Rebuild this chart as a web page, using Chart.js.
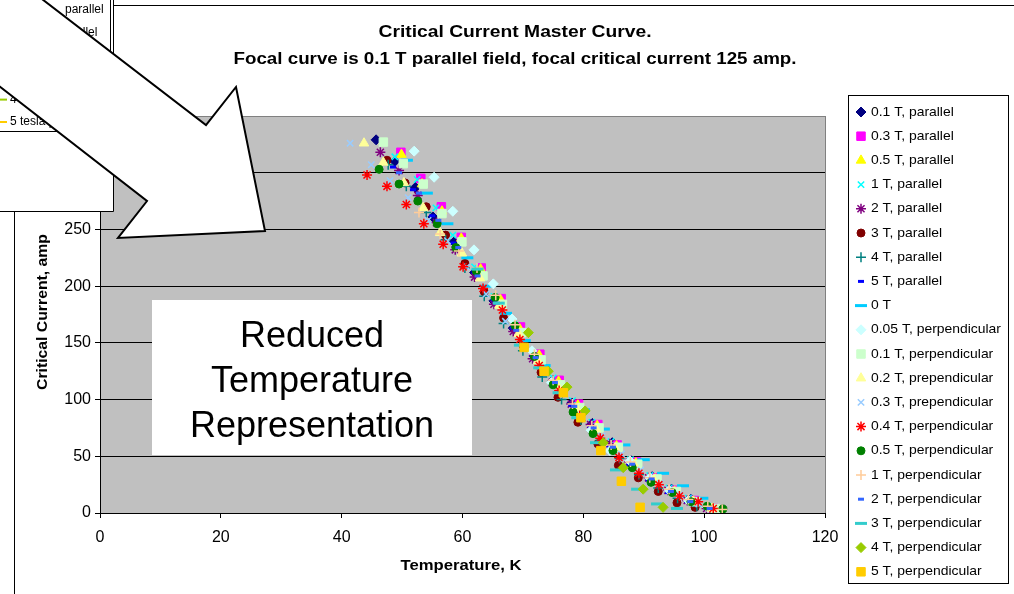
<!DOCTYPE html>
<html>
<head>
<meta charset="utf-8">
<script src="https://cdn.jsdelivr.net/npm/chart.js@4.4.0/dist/chart.umd.min.js"></script>
<style>
html, body { margin: 0; padding: 0; background: #fff; }
#wrap { position: relative; width: 1014px; height: 594px; }
</style>
</head>
<body>
<div id="wrap"><canvas id="masterCurveChart" width="1014" height="594"></canvas></div>
<script>
// series names (legend order)
const seriesNames = [
    '0.1 T, parallel', '0.3 T, parallel', '0.5 T, parallel', '1 T, parallel', '2 T, parallel',
    '3 T, parallel', '4 T, parallel', '5 T, parallel', '0 T', '0.05 T, perpendicular',
    '0.1 T, perpendicular', '0.2 T, prependicular', '0.3 T, prependicular', '0.4 T, perpendicular',
    '0.5 T, perpendicular', '1 T, perpendicular', '2 T, perpendicular', '3 T, perpendicular',
    '4 T, perpendicular', '5 T, perpendicular'
];

// [temperature K, critical current amp]
const par01 = [[45.7,329],[48.8,310],[52.2,287],[55.1,261],[58.6,239],[62.0,212],[65.2,187],[68.4,163],[71.9,138],[75.0,117],[78.1,97],[81.5,79],[84.8,62],[87.9,46],[91.4,32],[94.6,21],[97.8,12],[101.5,4]];
const par03 = [[49.8,318],[53.1,295],[56.5,270],[59.8,243],[63.1,216],[66.4,189],[69.6,164],[72.8,140],[76.0,117],[79.2,96],[82.4,78],[85.6,60],[88.8,45],[92.0,31],[95.2,20],[98.4,11],[101.6,4]];
const par05 = [[49.9,316],[53.3,290],[56.6,266],[59.8,242],[63.0,215],[66.3,188],[69.5,162],[72.7,139],[75.9,116],[79.1,95],[82.3,77],[85.5,59],[88.7,44],[91.9,30],[95.1,19],[98.3,10],[101.4,4]];
const par1 = [[48.8,314],[52.5,294],[55.6,269],[58.4,245],[62.0,217],[65.2,191],[68.5,166],[71.7,141],[75.0,119],[78.2,99],[81.4,80],[84.6,63],[87.8,47],[91.0,33],[94.2,22],[97.4,13],[100.6,6]];
const par2 = [[46.4,318],[49.5,302],[52.6,280],[55.7,256],[58.8,232],[62.0,208],[65.2,184],[68.4,160],[71.6,136],[74.8,115],[78.0,96],[81.2,78],[84.4,61],[87.6,45],[90.8,31],[94.0,20],[97.2,11],[100.4,4]];
const par3 = [[47.5,311],[50.5,291],[54.0,270],[57.2,245],[60.4,220],[63.6,195],[66.8,172],[70.0,148],[73.0,124],[75.8,102],[79.1,80],[82.4,61],[85.8,42],[89.1,31],[92.4,19],[95.5,9],[98.5,5],[101.5,3]];
const par4 = [[47.7,307],[50.7,288],[54.0,265],[57.2,241],[60.4,216],[63.6,191],[66.8,167],[70.0,143],[73.2,120],[76.4,100],[79.6,82],[82.8,64],[86.0,48],[89.2,34],[92.4,22],[95.6,13],[98.8,6],[102.0,2]];
const par5 = [[48.5,305],[51.8,285],[55.0,262],[58.5,238],[62.0,212],[65.2,188],[68.4,163],[71.6,139],[74.8,116],[78.0,95],[81.2,76],[84.4,58],[87.6,42],[90.8,29],[94.0,18],[97.2,10],[100.4,4]];
const zero = [[50.8,311],[54.1,282],[57.5,255],[60.8,225],[64.0,200],[67.2,176],[70.3,152],[73.6,130],[76.8,110],[80.1,91],[83.4,74],[86.8,60],[90.0,47],[93.2,35],[96.5,24],[99.7,13]];
const perp005 = [[52.0,319],[55.3,296],[58.4,266],[61.9,232],[65.1,202],[68.2,171],[71.5,143],[74.7,115],[78.5,89],[81.3,73],[84.4,55],[87.7,46],[91.0,31],[94.2,20],[97.4,11],[100.6,5]];
const perp01 = [[46.9,327],[50.2,308],[53.5,290],[56.6,264],[59.9,239],[63.4,209],[66.6,184],[69.8,159],[73.0,135],[76.2,113],[79.4,93],[82.6,75],[85.8,58],[89.0,43],[92.2,30],[95.4,19],[98.6,10],[101.8,4]];
const perp02 = [[43.7,326],[46.9,309],[50.3,291],[53.5,269],[56.3,247],[59.9,229],[62.9,207],[66.1,183],[69.3,158],[72.5,134],[75.7,112],[78.9,92],[82.1,74],[85.3,57],[88.5,42],[91.7,29],[94.9,18],[98.1,10],[101.3,4]];
const perp03 = [[41.4,326],[44.9,307],[48.0,293],[51.0,278],[54.3,258],[57.5,240],[60.7,217],[63.9,193],[67.1,169],[70.3,146],[73.5,124],[76.7,104],[79.9,85],[83.1,68],[86.3,52],[89.5,38],[92.7,26],[95.9,16],[99.1,8]];
const perp04 = [[44.2,298],[47.5,288],[50.7,272],[53.6,255],[56.8,237],[60.1,217],[63.4,198],[66.6,179],[69.5,153],[72.7,130],[76.0,108],[79.4,86],[82.8,66],[85.9,49],[89.2,35],[92.5,25],[95.9,15],[99.0,10],[101.5,4]];
const perp05 = [[46.2,303],[49.5,290],[52.6,275],[55.8,255],[58.9,234],[62.3,213],[65.4,190],[68.7,165],[71.9,138],[75.0,113],[78.3,89],[81.6,70],[84.9,55],[88.1,40],[91.2,27],[94.7,18],[97.8,10],[100.5,6],[103.1,3.5]];
const perp1 = [[52.8,265],[56.3,246],[59.4,231],[62.4,216],[65.5,192],[68.7,166],[71.9,140],[75.0,117],[78.2,96],[81.4,77],[84.6,60],[87.8,45],[91.0,31],[94.2,21],[97.4,12],[100.6,6],[103.0,3]];
const perp2 = [[49.5,300],[52.8,282],[56.0,258],[59.3,234],[62.5,209],[65.7,185],[68.9,161],[72.1,137],[75.3,115],[78.5,94],[81.7,75],[84.9,58],[88.1,43],[91.3,30],[94.5,19],[97.7,10],[100.9,4]];
const perp3 = [[62.5,215],[66.0,185],[69.5,148],[72.7,128],[75.9,106],[79.0,84],[82.1,62],[85.4,38],[88.9,21],[92.2,8],[95.5,4]];
const perp4 = [[70.9,159],[74.2,125],[77.3,111],[80.3,90],[83.3,62],[86.6,40],[89.9,21],[93.2,5]];
const perp5 = [[70.2,146],[73.5,125],[76.7,106],[79.6,84],[82.9,55],[86.3,28],[89.4,5]];

const seriesData = [par01, par03, par05, par1, par2, par3, par4, par5, zero, perp005,
    perp01, perp02, perp03, perp04, perp05, perp1, perp2, perp3, perp4, perp5];

const xTicks = [0, 20, 40, 60, 80, 100, 120];
const yTicks = [0, 50, 100, 150, 200, 250, 300, 350];

// marker look for each series: [pointStyle, color, radius, lineWidth]
const markerStyles = [
    ['rectRot', '#000080', 5, 1], ['rect', '#FF00FF', 6, 1], ['triangle', '#FFFF00', 5.5, 1],
    ['crossRot', '#00FFFF', 4.5, 1.5], ['star', '#800080', 5, 1.5], ['circle', '#800000', 4, 1],
    ['cross', '#008080', 5, 1.5], ['line', '#0000FF', 3, 3], ['line', '#00CCFF', 6, 3],
    ['rectRot', '#CCFFFF', 5, 1], ['rect', '#CCFFCC', 6, 1], ['triangle', '#FFFF99', 5.5, 1],
    ['crossRot', '#99CCFF', 4.5, 1.5], ['star', '#FF0000', 5, 1.5], ['circle', '#008000', 4, 1],
    ['cross', '#FFCC99', 5, 1.5], ['line', '#3366FF', 3, 3], ['line', '#33CCCC', 6, 3],
    ['rectRot', '#99CC00', 5, 1], ['rect', '#FFCC00', 6, 1]
];

const FONT = '"Liberation Sans", Arial, sans-serif';

// text squeezed/stretched to a target width
function fitText(ctx, text, x, y, font, width, align) {
    ctx.save();
    ctx.font = font;
    const w = ctx.measureText(text).width;
    const sx = width ? width / w : 1;
    ctx.translate(x, y);
    ctx.scale(sx, 1);
    ctx.textAlign = align || 'center';
    ctx.textBaseline = 'middle';
    ctx.fillStyle = '#000';
    ctx.fillText(text, 0, 0);
    ctx.restore();
}

function drawMarker(ctx, style, x, y) {
    ctx.save();
    ctx.fillStyle = style[1];
    ctx.strokeStyle = style[1];
    ctx.lineWidth = style[3];
    Chart.helpers.drawPoint(ctx, {pointStyle: style[0], radius: style[2], rotation: 0, borderWidth: style[3]}, x, y);
    ctx.restore();
}

const decorations = {
    id: 'decorations',
    beforeDraw(chart) {
        const ctx = chart.ctx;
        const a = chart.chartArea;
        ctx.save();
        ctx.fillStyle = '#fff';
        ctx.fillRect(0, 0, chart.width, chart.height);
        // outer chart frame
        ctx.strokeStyle = '#000';
        ctx.lineWidth = 1;
        ctx.strokeRect(14.5, 5.5, 1100, 700);
        // plot area
        ctx.fillStyle = '#C0C0C0';
        ctx.fillRect(a.left, a.top, a.right - a.left, a.bottom - a.top);
        ctx.restore();
    },
    afterDraw(chart) {
        const ctx = chart.ctx;
        const a = chart.chartArea;
        ctx.save();

        // plot border, right side
        ctx.strokeStyle = '#808080';
        ctx.lineWidth = 1;
        ctx.beginPath();
        ctx.moveTo(a.right + 0.5, a.top);
        ctx.lineTo(a.right + 0.5, a.bottom);
        ctx.stroke();

        // titles
        fitText(ctx, 'Critical Current Master Curve.', 515, 33, 'bold 16px ' + FONT, 273);
        fitText(ctx, 'Focal curve is 0.1 T parallel field, focal critical current 125 amp.', 515, 60, 'bold 16px ' + FONT, 563);
        fitText(ctx, 'Temperature, K', 461, 566, 'bold 15px ' + FONT, 121);
        ctx.save();
        ctx.translate(43, 312);
        ctx.rotate(-Math.PI / 2);
        fitText(ctx, 'Critical Current, amp', 0, 0, 'bold 15px ' + FONT, 156);
        ctx.restore();

        // legend
        ctx.fillStyle = '#fff';
        ctx.fillRect(848, 95, 160, 488);
        ctx.strokeStyle = '#000';
        ctx.strokeRect(848.5, 95.5, 160, 488);
        ctx.font = '13px ' + FONT;
        const sx = 130 / ctx.measureText('0.05 T, perpendicular').width;
        seriesNames.forEach(function(name, i) {
            const y = 112 + i * 24.2;
            drawMarker(ctx, markerStyles[i], 861, y);
            ctx.save();
            ctx.translate(871, y);
            ctx.scale(sx, 1);
            ctx.fillStyle = '#000';
            ctx.textBaseline = 'middle';
            ctx.textAlign = 'left';
            ctx.fillText(name, 0, 0);
            ctx.restore();
        });

        // text box
        ctx.fillStyle = '#fff';
        ctx.fillRect(152, 300, 320, 155);
        ['Reduced', 'Temperature', 'Representation'].forEach(function(t, i) {
            ctx.font = '36px ' + FONT;
            ctx.fillStyle = '#000';
            ctx.textAlign = 'center';
            ctx.textBaseline = 'middle';
            ctx.fillText(t, 312, 337 + i * 45);
        });

        // pasted piece of another chart, top left
        ctx.fillStyle = '#fff';
        ctx.fillRect(0, 0, 113, 212);
        ctx.strokeStyle = '#000';
        ctx.beginPath();
        ctx.moveTo(113.5, 0); ctx.lineTo(113.5, 211.5); ctx.lineTo(0, 211.5);
        ctx.moveTo(110.5, 0); ctx.lineTo(110.5, 131.5); ctx.lineTo(0, 131.5);
        ctx.stroke();
        const oldRows = ['parallel', '0.1 tesla parallel', '0.5 tesla parallel', '1 tesla parallel', '4 tesla parallel', '5 tesla parallel'];
        const oldX = [65, 10, 10, 10, 10, 10];
        const oldColors = ['#000080', '#FF00FF', '#FFFF00', '#00FFFF', '#99CC00', '#FFCC00'];
        oldRows.forEach(function(t, i) {
            const y = 10 + i * 22.4;
            ctx.strokeStyle = oldColors[i];
            ctx.lineWidth = 2;
            ctx.beginPath();
            ctx.moveTo(0, y); ctx.lineTo(7, y);
            ctx.stroke();
            ctx.font = '12px ' + FONT;
            ctx.fillStyle = '#000';
            ctx.textAlign = 'left';
            ctx.textBaseline = 'middle';
            ctx.fillText(t, oldX[i], y);
        });

        // big arrow
        ctx.fillStyle = '#fff';
        ctx.strokeStyle = '#000';
        ctx.lineWidth = 2;
        ctx.beginPath();
        ctx.moveTo(-100, -110);
        ctx.lineTo(206, 125);
        ctx.lineTo(236, 87);
        ctx.lineTo(265, 231);
        ctx.lineTo(118, 238);
        ctx.lineTo(147, 201);
        ctx.lineTo(-100, 9);
        ctx.closePath();
        ctx.fill();
        ctx.stroke();

        ctx.restore();
    }
};

const datasets = seriesData.map(function(points, i) {
    const st = markerStyles[i];
    return {
        label: seriesNames[i],
        data: points.map(function(p) { return {x: p[0], y: p[1]}; }),
        pointStyle: st[0],
        pointRadius: st[2],
        pointBorderWidth: st[3],
        backgroundColor: st[1],
        borderColor: st[1],
        showLine: false,
        order: seriesData.length - i
    };
});

const ctx = document.getElementById('masterCurveChart').getContext('2d');

new Chart(ctx, {
    type: 'scatter',
    data: { datasets: datasets },
    options: {
        responsive: false,
        animation: false,
        devicePixelRatio: 1,
        layout: { padding: { left: 60, right: 189, top: 116, bottom: 41 } },
        plugins: {
            legend: { display: false },
            tooltip: { enabled: false },
            title: { display: false }
        },
        scales: {
            x: {
                type: 'linear',
                min: 0,
                max: 120,
                afterBuildTicks: function(scale) { scale.ticks = xTicks.map(function(v) { return {value: v}; }); },
                afterFit: function(scale) { scale.height = 40; },
                grid: { drawOnChartArea: false, drawTicks: true, tickLength: 5, color: '#000' },
                border: { display: true, color: '#000' },
                ticks: { color: '#000', padding: 10, maxRotation: 0, font: { family: FONT, size: 16 } }
            },
            y: {
                type: 'linear',
                min: 0,
                max: 350,
                afterBuildTicks: function(scale) { scale.ticks = yTicks.map(function(v) { return {value: v}; }); },
                afterFit: function(scale) { scale.width = 40; },
                grid: {
                    drawTicks: true,
                    tickLength: 5,
                    color: function(c) { return c.tick && c.tick.value === 350 ? '#808080' : '#000'; }
                },
                border: { display: true, color: '#000' },
                ticks: { color: '#000', padding: 4, font: { family: FONT, size: 16 } }
            }
        }
    },
    plugins: [decorations]
});
</script>
</body>
</html>
